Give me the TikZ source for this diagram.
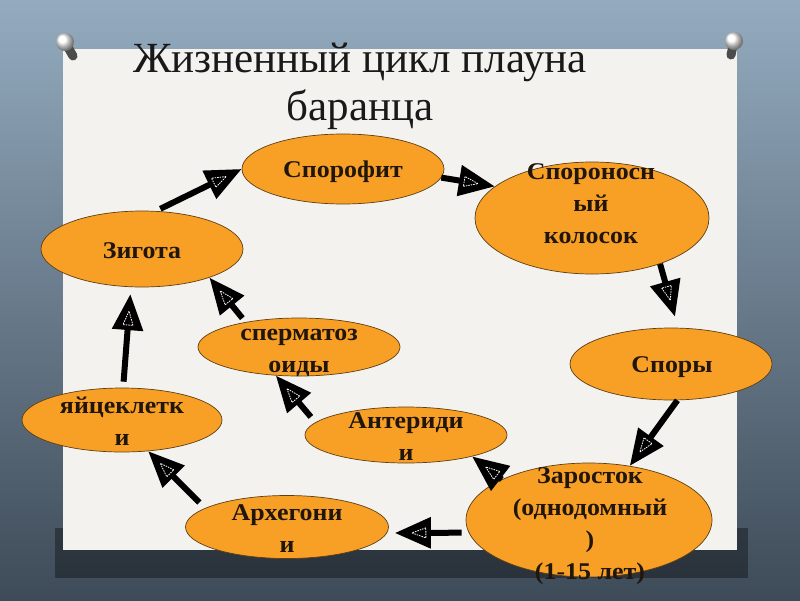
\documentclass[tikz,border=0pt]{standalone}
\usepackage{fontspec}
\setmainfont{Liberation Serif}
\newfontfamily\ovalfont[FakeStretch=1.08]{Liberation Serif}
\usetikzlibrary{arrows.meta,shapes.geometric,decorations.markings}
\definecolor{bgtop}{RGB}{148,171,191}
\definecolor{bgbot}{RGB}{62,75,88}
\definecolor{paper}{RGB}{243,242,238}
\definecolor{ovalfill}{RGB}{248,160,38}
\definecolor{ovalline}{RGB}{95,62,20}
\definecolor{ovaltext}{RGB}{32,22,12}
\begin{document}
\begin{tikzpicture}[x=1pt,y=-1pt,line join=round,
	oval/.style={ellipse,draw=ovalline,fill=ovalfill,line width=0.7pt,inner sep=0pt},
	txt/.style={text=ovaltext,font=\ovalfont\bfseries\fontsize{24}{32}\selectfont,align=center,anchor=base,inner sep=0pt},
	ttl/.style={font=\upshape\fontsize{43}{48}\selectfont,text=black!90,anchor=base},
	flow/.style={line width=6pt,-{Triangle[length=36pt,width=30pt]},
		postaction={decorate,decoration={markings,mark=at position 1 with
			{\draw[-,white,line width=0.8pt,dash pattern=on 1.5pt off 1pt] (-31pt,-5pt) -- (-17pt,0pt) -- (-31pt,5pt) -- cycle;}}}}]
	\shade[top color=bgtop,bottom color=bgbot] (0,0) rectangle (800,600);
	\fill[black,opacity=0.35] (55,528) rectangle (748,578);
	\fill[paper] (63,49) rectangle (737,550);
	\draw[line width=9pt,line cap=round,gray!60!black] (65,42) -- (73,56);
	\shade[ball color=white] (65,42) circle (9);
	\draw[line width=9pt,line cap=round,gray!60!black] (734,41) -- (731,55);
	\shade[ball color=white] (734,41) circle (9);
	\node[ttl] (title-a) at (360,72) {Жизненный цикл плауна};
	\node[ttl] (title-b) at (360,120) {баранца};
	\node[oval,minimum width=202,minimum height=70] (spf) at (343,169) {};
	\node[txt] (spf-t) at (343,177) {Спорофит};
	\node[oval,minimum width=234,minimum height=112] (kol) at (592,218) {};
	\node[txt] (kol-t) at (591,243) {Спороносн\\ый\\колосок};
	\node[oval,minimum width=202,minimum height=72] (spr) at (671,364) {};
	\node[txt] (spr-t) at (672,372) {Споры};
	\node[oval,minimum width=246,minimum height=114] (zar) at (589,520) {};
	\node[txt] (zar-t) at (590,579) {Заросток\\(однодомный\\)\\(1-15 лет)};
	\node[oval,minimum width=202,minimum height=56] (ant) at (406,435) {};
	\node[txt] (ant-t) at (406,460) {Антериди\\и};
	\node[oval,minimum width=203,minimum height=63] (arh) at (287,527) {};
	\node[txt] (arh-t) at (287,552) {Архегони\\и};
	\node[oval,minimum width=200,minimum height=64] (yaj) at (122,420) {};
	\node[txt] (yaj-t) at (122,445) {яйцеклетк\\и};
	\node[oval,minimum width=202,minimum height=58] (sprm) at (299,347) {};
	\node[txt] (sprm-t) at (299,372) {сперматоз\\оиды};
	\node[oval,minimum width=202,minimum height=76] (zyg) at (142,249) {};
	\node[txt] (zyg-t) at (142,258) {Зигота};
	\draw[flow,shorten <=5pt] (zyg.70) -- (spf.west);
	\draw[flow] (spf.355) -- (kol.162);
	\draw[flow] (kol.-34) -- ([shift={(4pt,11pt)}]spr.north);
	\draw[flow] (spr.-80) -- (zar.53);
	\draw[flow] (zar.155) -- (ant.-18);
	\draw[flow,shorten <=7pt] (zar.186) -- ([shift={(6pt,-6pt)}]arh.east);
	\draw[flow,shorten <=8pt] (arh.167) -- (yaj.-50);
	\draw[flow,shorten <=7pt] (ant.172) -- (sprm.-129);
	\draw[flow,shorten <=5pt] (sprm.155) -- (zyg.-23);
	\draw[flow,shorten <=6pt] (yaj.88) -- ([yshift=-7pt]zyg.-107);
\end{tikzpicture}
\end{document}
